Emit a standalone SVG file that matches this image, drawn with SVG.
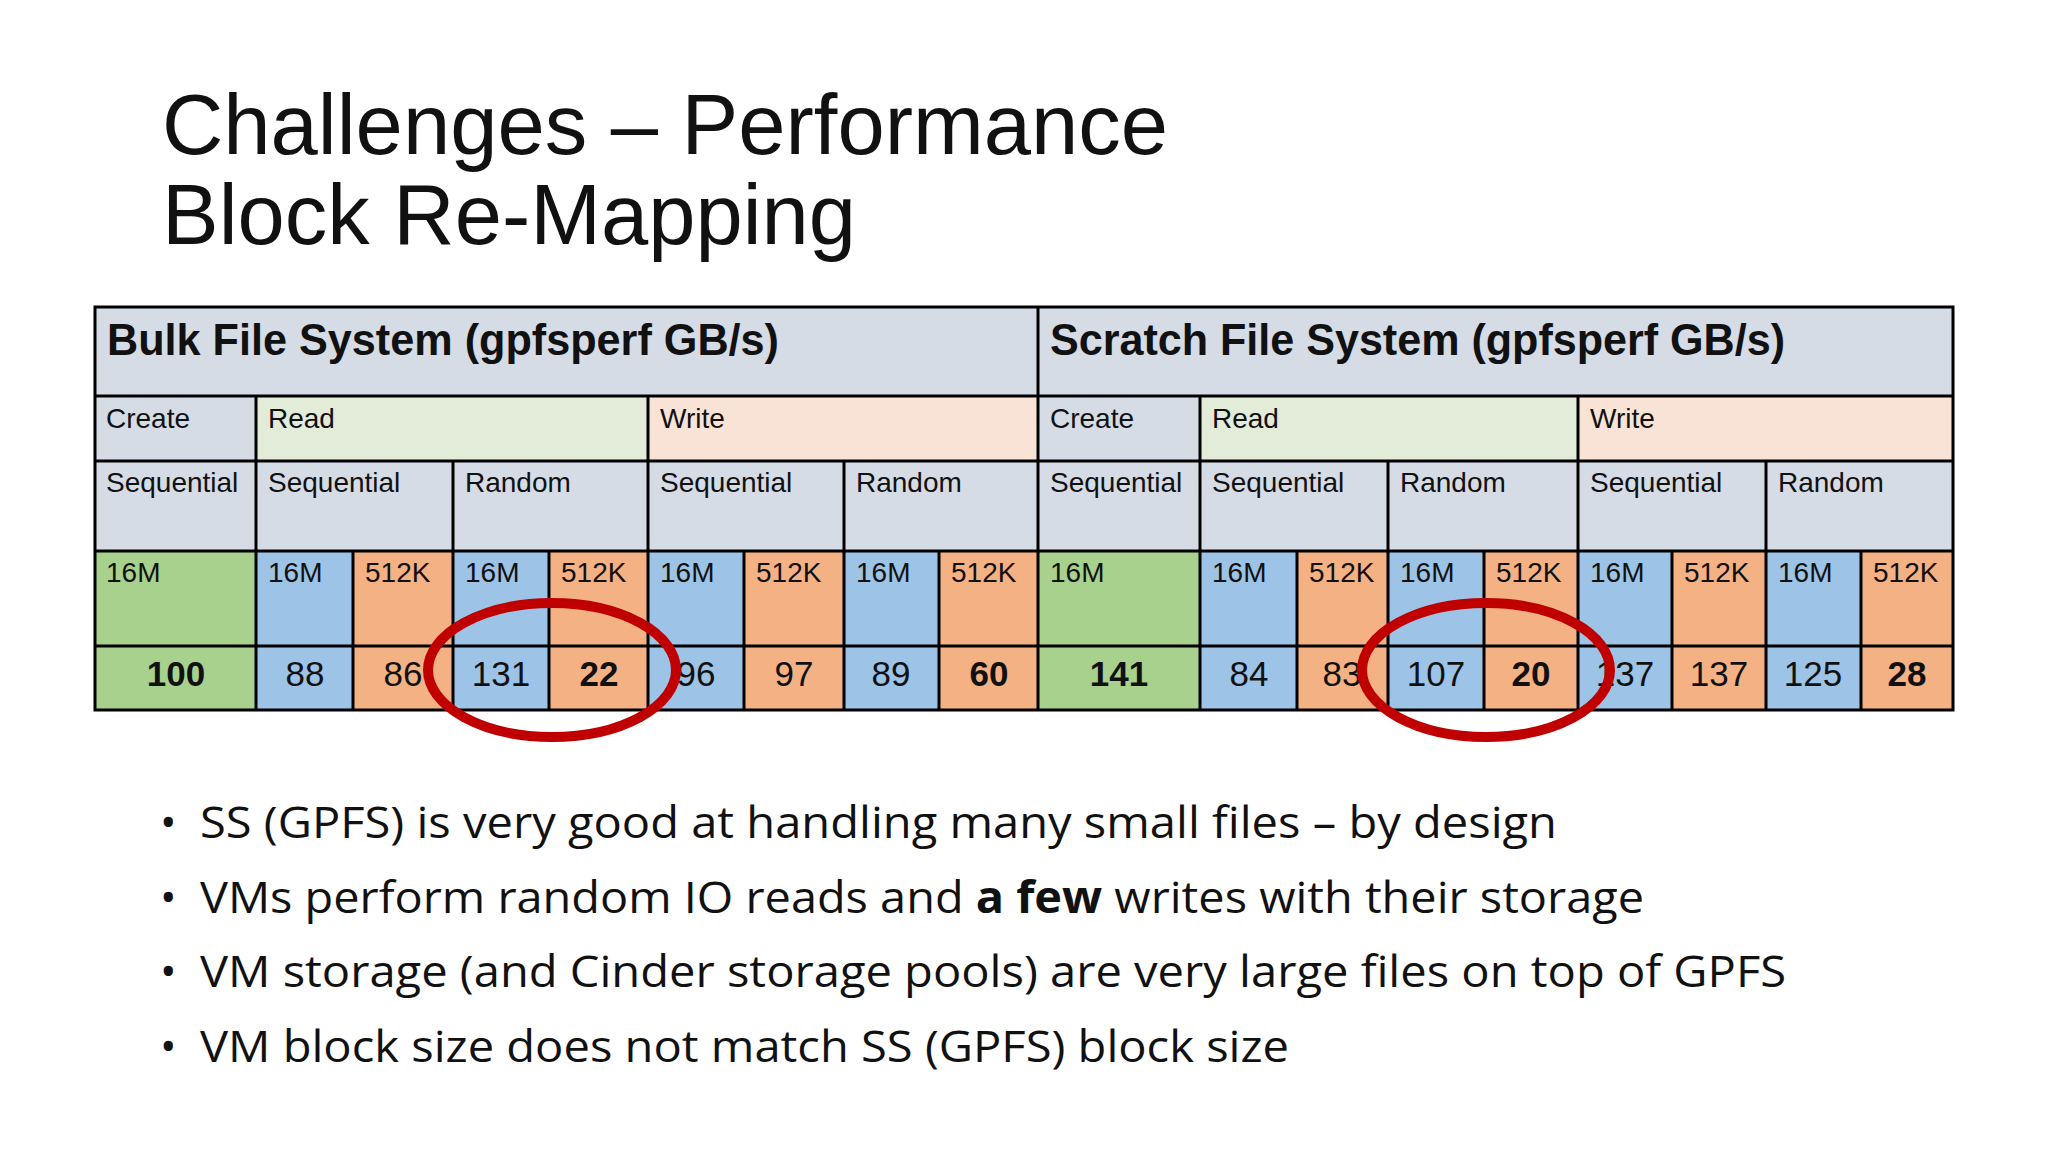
<svg xmlns="http://www.w3.org/2000/svg" width="2048" height="1152" viewBox="0 0 2048 1152">
<style>
.t{font-family:"Liberation Sans Narrow","Liberation Sans",sans-serif;fill:#111}
.h{font-size:44px;font-weight:bold}
.s{font-size:28px}
.v{font-size:35px;text-anchor:middle}
.b{font-weight:bold}
.g{fill:#d6dce5}.rd{fill:#e2ecd9}.wr{fill:#f9e3d6}.gr{fill:#a9d18e}.bl{fill:#9dc3e6}.or{fill:#f4b183}
.ln{stroke:#000;stroke-width:3;fill:none}
.bu{font-family:"Open Sans",sans-serif;font-size:44px;fill:#111}
.ring{fill:none;stroke:#c00000;stroke-width:10}
</style>
<rect width="2048" height="1152" fill="#fff"/>
<g id="title" font-family="Liberation Sans,sans-serif" font-size="86" fill="#111">
<text x="162" y="154" textLength="1006" lengthAdjust="spacingAndGlyphs">Challenges – Performance</text>
<text x="162" y="244" textLength="694" lengthAdjust="spacingAndGlyphs">Block Re-Mapping</text>
</g>
<g id="table">
<rect class="g" x="95" y="307" width="1858" height="244"/>
<rect class="rd" x="256" y="396" width="392" height="65"/>
<rect class="wr" x="648" y="396" width="390" height="65"/>
<rect class="rd" x="1200" y="396" width="378" height="65"/>
<rect class="wr" x="1578" y="396" width="375" height="65"/>
<rect class="gr" x="95" y="551" width="161" height="159"/>
<rect class="gr" x="1038" y="551" width="162" height="159"/>
<g class="bl"><rect x="256" y="551" width="97" height="159"/><rect x="453" y="551" width="96" height="159"/><rect x="648" y="551" width="96" height="159"/><rect x="844" y="551" width="95" height="159"/><rect x="1200" y="551" width="97" height="159"/><rect x="1388" y="551" width="96" height="159"/><rect x="1578" y="551" width="94" height="159"/><rect x="1766" y="551" width="95" height="159"/></g>
<g class="or"><rect x="353" y="551" width="100" height="159"/><rect x="549" y="551" width="99" height="159"/><rect x="744" y="551" width="100" height="159"/><rect x="939" y="551" width="99" height="159"/><rect x="1297" y="551" width="91" height="159"/><rect x="1484" y="551" width="94" height="159"/><rect x="1672" y="551" width="94" height="159"/><rect x="1861" y="551" width="92" height="159"/></g>
<path class="ln" d="M95 307H1953V710H95Z M95 396H1953 M95 461H1953 M95 551H1953 M95 646H1953 M1038 307V710 M256 396V710 M648 396V710 M1200 396V710 M1578 396V710 M453 461V710 M844 461V710 M1388 461V710 M1766 461V710 M353 551V710 M549 551V710 M744 551V710 M939 551V710 M1297 551V710 M1484 551V710 M1672 551V710 M1861 551V710"/>
<g class="t">
<text class="h" x="107" y="355" textLength="672" lengthAdjust="spacingAndGlyphs">Bulk File System (gpfsperf GB/s)</text>
<text class="h" x="1050" y="355" textLength="735" lengthAdjust="spacingAndGlyphs">Scratch File System (gpfsperf GB/s)</text>
<g class="s">
<text x="106" y="428">Create</text><text x="268" y="428">Read</text><text x="660" y="428">Write</text>
<text x="1050" y="428">Create</text><text x="1212" y="428">Read</text><text x="1590" y="428">Write</text>
<text x="106" y="492">Sequential</text><text x="268" y="492">Sequential</text><text x="465" y="492">Random</text><text x="660" y="492">Sequential</text><text x="856" y="492">Random</text>
<text x="1050" y="492">Sequential</text><text x="1212" y="492">Sequential</text><text x="1400" y="492">Random</text><text x="1590" y="492">Sequential</text><text x="1778" y="492">Random</text>
<text x="106" y="582">16M</text><text x="268" y="582">16M</text><text x="365" y="582">512K</text><text x="465" y="582">16M</text><text x="561" y="582">512K</text><text x="660" y="582">16M</text><text x="756" y="582">512K</text><text x="856" y="582">16M</text><text x="951" y="582">512K</text>
<text x="1050" y="582">16M</text><text x="1212" y="582">16M</text><text x="1309" y="582">512K</text><text x="1400" y="582">16M</text><text x="1496" y="582">512K</text><text x="1590" y="582">16M</text><text x="1684" y="582">512K</text><text x="1778" y="582">16M</text><text x="1873" y="582">512K</text>
</g>
<g class="v">
<text class="b" x="176" y="686">100</text><text x="305" y="686">88</text><text x="403" y="686">86</text><text x="501" y="686">131</text><text class="b" x="599" y="686">22</text><text x="696" y="686">96</text><text x="794" y="686">97</text><text x="891" y="686">89</text><text class="b" x="989" y="686">60</text>
<text class="b" x="1119" y="686">141</text><text x="1249" y="686">84</text><text x="1342" y="686">83</text><text x="1436" y="686">107</text><text class="b" x="1531" y="686">20</text><text x="1625" y="686">137</text><text x="1719" y="686">137</text><text x="1813" y="686">125</text><text class="b" x="1907" y="686">28</text>
</g>
</g>
</g>
<g id="rings">
<ellipse class="ring" cx="552" cy="670" rx="124" ry="67"/>
<ellipse class="ring" cx="1486" cy="670" rx="124" ry="67"/>
</g>
<g id="bullets" class="bu">
<text x="160" y="838">•</text><text x="200" y="838" textLength="1357" lengthAdjust="spacingAndGlyphs">SS (GPFS) is very good at handling many small files – by design</text>
<text x="160" y="913">•</text><text x="200" y="913" textLength="1444" lengthAdjust="spacingAndGlyphs">VMs perform random IO reads and <tspan font-weight="bold">a few</tspan> writes with their storage</text>
<text x="160" y="987">•</text><text x="200" y="987" textLength="1586" lengthAdjust="spacingAndGlyphs">VM storage (and Cinder storage pools) are very large files on top of GPFS</text>
<text x="160" y="1062">•</text><text x="200" y="1062" textLength="1089" lengthAdjust="spacingAndGlyphs">VM block size does not match SS (GPFS) block size</text>
</g>
</svg>
